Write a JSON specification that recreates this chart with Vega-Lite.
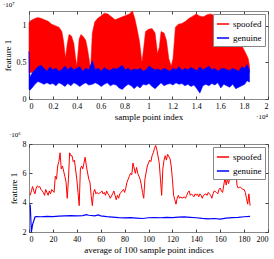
{
"$schema": "https://vega.github.io/schema/vega-lite/v6.json",
"padding": {"left": 2, "top": 0, "right": 5, "bottom": 0},
"config": {
 "font": "Liberation Serif",
 "view": {"stroke": "#888", "strokeWidth": 1},
 "axis": {"domain": false, "grid": false, "tickColor": "#444", "tickSize": -3, "labelFont": "Liberation Serif", "labelFontSize": 8, "labelColor": "#000", "titleFont": "Liberation Serif", "titleFontSize": 9, "titleFontWeight": "normal", "titleColor": "#000", "labelPadding": 6},
 "legend": {"orient": "top-right", "offset": 3, "strokeColor": "#888", "fillColor": "white", "padding": 3, "symbolType": "stroke", "symbolStrokeWidth": 1.5, "symbolSize": 150, "labelOffset": 3, "labelFont": "Liberation Serif", "labelFontSize": 9, "labelColor": "#000", "rowPadding": 2},
 "title": {"fontSize": 7, "font": "Liberation Serif", "fontWeight": "normal", "anchor": "start", "offset": 2, "color": "#000"},
 "concat": {"spacing": 8}
},
"resolve": {"scale": {"stroke": "independent", "fill": "independent"}, "legend": {"stroke": "independent", "fill": "independent"}},
"vconcat": [
{
 "width": 239, "height": 88,
 "title": {"text": "·10⁷"},
 "layer": [
  {
   "data": {"values": [
    {"x":0,"series":"spoofed","hi":1.04e7,"lo":3.6e6},
    {"x":150,"series":"spoofed","hi":1.07e7,"lo":3.6e6},
    {"x":400,"series":"spoofed","hi":1.09e7,"lo":3.6e6},
    {"x":700,"series":"spoofed","hi":1.11e7,"lo":3.6e6},
    {"x":1000,"series":"spoofed","hi":1.10e7,"lo":3.6e6},
    {"x":1300,"series":"spoofed","hi":1.08e7,"lo":3.6e6},
    {"x":1600,"series":"spoofed","hi":1.06e7,"lo":3.6e6},
    {"x":1900,"series":"spoofed","hi":1.02e7,"lo":3.6e6},
    {"x":2200,"series":"spoofed","hi":1.0e7,"lo":3.6e6},
    {"x":2500,"series":"spoofed","hi":0.98e7,"lo":3.6e6},
    {"x":2750,"series":"spoofed","hi":0.92e7,"lo":3.6e6},
    {"x":2900,"series":"spoofed","hi":0.78e7,"lo":3.6e6},
    {"x":3050,"series":"spoofed","hi":0.56e7,"lo":3.6e6},
    {"x":3200,"series":"spoofed","hi":0.75e7,"lo":3.6e6},
    {"x":3350,"series":"spoofed","hi":0.88e7,"lo":3.6e6},
    {"x":3550,"series":"spoofed","hi":0.86e7,"lo":3.6e6},
    {"x":3750,"series":"spoofed","hi":0.76e7,"lo":3.6e6},
    {"x":3900,"series":"spoofed","hi":0.56e7,"lo":3.6e6},
    {"x":4000,"series":"spoofed","hi":0.45e7,"lo":3.6e6},
    {"x":4200,"series":"spoofed","hi":0.82e7,"lo":3.6e6},
    {"x":4350,"series":"spoofed","hi":0.88e7,"lo":3.6e6},
    {"x":4550,"series":"spoofed","hi":0.85e7,"lo":3.6e6},
    {"x":4750,"series":"spoofed","hi":0.80e7,"lo":3.6e6},
    {"x":4900,"series":"spoofed","hi":0.68e7,"lo":3.6e6},
    {"x":5050,"series":"spoofed","hi":0.52e7,"lo":3.6e6},
    {"x":5150,"series":"spoofed","hi":0.40e7,"lo":3.6e6},
    {"x":5300,"series":"spoofed","hi":0.90e7,"lo":3.6e6},
    {"x":5500,"series":"spoofed","hi":1.05e7,"lo":3.6e6},
    {"x":5750,"series":"spoofed","hi":1.10e7,"lo":3.6e6},
    {"x":6000,"series":"spoofed","hi":1.13e7,"lo":3.6e6},
    {"x":6300,"series":"spoofed","hi":1.17e7,"lo":3.6e6},
    {"x":6600,"series":"spoofed","hi":1.16e7,"lo":3.6e6},
    {"x":6900,"series":"spoofed","hi":1.12e7,"lo":3.6e6},
    {"x":7200,"series":"spoofed","hi":1.08e7,"lo":3.6e6},
    {"x":7500,"series":"spoofed","hi":1.10e7,"lo":3.6e6},
    {"x":7800,"series":"spoofed","hi":1.12e7,"lo":3.6e6},
    {"x":8100,"series":"spoofed","hi":1.14e7,"lo":3.6e6},
    {"x":8400,"series":"spoofed","hi":1.16e7,"lo":3.6e6},
    {"x":8650,"series":"spoofed","hi":1.20e7,"lo":3.6e6},
    {"x":8850,"series":"spoofed","hi":1.10e7,"lo":3.6e6},
    {"x":9050,"series":"spoofed","hi":0.95e7,"lo":3.6e6},
    {"x":9250,"series":"spoofed","hi":0.78e7,"lo":3.6e6},
    {"x":9450,"series":"spoofed","hi":0.50e7,"lo":3.6e6},
    {"x":9600,"series":"spoofed","hi":0.70e7,"lo":3.6e6},
    {"x":9750,"series":"spoofed","hi":0.92e7,"lo":3.6e6},
    {"x":10000,"series":"spoofed","hi":0.95e7,"lo":3.6e6},
    {"x":10300,"series":"spoofed","hi":0.96e7,"lo":3.6e6},
    {"x":10550,"series":"spoofed","hi":0.90e7,"lo":3.6e6},
    {"x":10750,"series":"spoofed","hi":0.62e7,"lo":3.6e6},
    {"x":10900,"series":"spoofed","hi":0.70e7,"lo":3.6e6},
    {"x":11050,"series":"spoofed","hi":0.92e7,"lo":3.6e6},
    {"x":11300,"series":"spoofed","hi":0.90e7,"lo":3.6e6},
    {"x":11500,"series":"spoofed","hi":0.80e7,"lo":3.6e6},
    {"x":11700,"series":"spoofed","hi":0.55e7,"lo":3.6e6},
    {"x":11900,"series":"spoofed","hi":0.45e7,"lo":3.6e6},
    {"x":12050,"series":"spoofed","hi":0.55e7,"lo":3.6e6},
    {"x":12250,"series":"spoofed","hi":0.98e7,"lo":3.6e6},
    {"x":12500,"series":"spoofed","hi":1.02e7,"lo":3.6e6},
    {"x":12800,"series":"spoofed","hi":1.03e7,"lo":3.6e6},
    {"x":13100,"series":"spoofed","hi":1.06e7,"lo":3.6e6},
    {"x":13400,"series":"spoofed","hi":1.10e7,"lo":3.6e6},
    {"x":13700,"series":"spoofed","hi":1.13e7,"lo":3.6e6},
    {"x":14000,"series":"spoofed","hi":1.16e7,"lo":3.6e6},
    {"x":14300,"series":"spoofed","hi":1.13e7,"lo":3.6e6},
    {"x":14600,"series":"spoofed","hi":1.12e7,"lo":3.6e6},
    {"x":14900,"series":"spoofed","hi":1.15e7,"lo":3.6e6},
    {"x":15200,"series":"spoofed","hi":1.16e7,"lo":3.6e6},
    {"x":15500,"series":"spoofed","hi":1.14e7,"lo":3.6e6},
    {"x":15800,"series":"spoofed","hi":1.12e7,"lo":3.6e6},
    {"x":16100,"series":"spoofed","hi":1.10e7,"lo":3.6e6},
    {"x":16400,"series":"spoofed","hi":1.05e7,"lo":3.6e6},
    {"x":16700,"series":"spoofed","hi":0.98e7,"lo":3.6e6},
    {"x":17000,"series":"spoofed","hi":0.92e7,"lo":3.6e6},
    {"x":17300,"series":"spoofed","hi":0.86e7,"lo":3.6e6},
    {"x":17600,"series":"spoofed","hi":0.78e7,"lo":3.6e6},
    {"x":17900,"series":"spoofed","hi":0.70e7,"lo":3.6e6},
    {"x":18150,"series":"spoofed","hi":0.62e7,"lo":3.6e6},
    {"x":18350,"series":"spoofed","hi":0.55e7,"lo":3.6e6},
    {"x":18450,"series":"spoofed","hi":0.45e7,"lo":3.6e6}
   ]},
   "mark": {"type": "area", "strokeWidth": 0.5},
   "encoding": {
    "x": {"field": "x", "type": "quantitative", "scale": {"domain": [0, 20000], "nice": false}, "axis": {"values": [0,2000,4000,6000,8000,10000,12000,14000,16000,18000,20000], "labelExpr": "'' + datum.value/1e4", "title": "sample point index", "titlePadding": 2}},
    "y": {"field": "hi", "type": "quantitative", "scale": {"domain": [0, 1.2e7], "nice": false}, "axis": {"values": [0, 5e6, 1e7], "labelExpr": "'' + datum.value/1e7", "title": "feature 1", "titlePadding": 4}},
    "y2": {"field": "lo"},
    "fill": {"field": "series", "type": "nominal", "scale": {"domain": ["spoofed","genuine"], "range": ["#ff0000","#0000ff"]}, "legend": {"title": null}},
    "stroke": {"field": "series", "type": "nominal", "scale": {"domain": ["spoofed","genuine"], "range": ["#ff0000","#0000ff"]}, "legend": {"title": null}}
   }
  },
  {
   "data": {"values": [
    {"x":0,"series":"genuine","lo":1.3e6,"hi":6.5e6},
    {"x":80,"series":"genuine","lo":1.2e6,"hi":3.0e6},
    {"x":250,"series":"genuine","lo":1.5e6,"hi":3.5e6},
    {"x":500,"series":"genuine","lo":2.0e6,"hi":4.0e6},
    {"x":750,"series":"genuine","lo":2.4e6,"hi":4.4e6},
    {"x":1000,"series":"genuine","lo":2.2e6,"hi":4.6e6},
    {"x":1250,"series":"genuine","lo":2.0e6,"hi":4.2e6},
    {"x":1500,"series":"genuine","lo":2.2e6,"hi":3.8e6},
    {"x":1750,"series":"genuine","lo":2.0e6,"hi":4.4e6},
    {"x":2000,"series":"genuine","lo":2.1e6,"hi":4.0e6},
    {"x":2250,"series":"genuine","lo":1.8e6,"hi":4.2e6},
    {"x":2500,"series":"genuine","lo":2.2e6,"hi":3.8e6},
    {"x":2750,"series":"genuine","lo":2.0e6,"hi":4.0e6},
    {"x":3000,"series":"genuine","lo":1.7e6,"hi":4.5e6},
    {"x":3250,"series":"genuine","lo":2.1e6,"hi":4.0e6},
    {"x":3500,"series":"genuine","lo":1.8e6,"hi":4.4e6},
    {"x":3750,"series":"genuine","lo":2.2e6,"hi":4.0e6},
    {"x":4000,"series":"genuine","lo":2.0e6,"hi":4.2e6},
    {"x":4250,"series":"genuine","lo":1.7e6,"hi":4.4e6},
    {"x":4500,"series":"genuine","lo":2.0e6,"hi":3.8e6},
    {"x":4750,"series":"genuine","lo":2.2e6,"hi":4.2e6},
    {"x":5000,"series":"genuine","lo":1.9e6,"hi":4.0e6},
    {"x":5300,"series":"genuine","lo":2.0e6,"hi":5.2e6},
    {"x":5550,"series":"genuine","lo":2.2e6,"hi":4.0e6},
    {"x":5800,"series":"genuine","lo":2.0e6,"hi":4.2e6},
    {"x":6050,"series":"genuine","lo":1.7e6,"hi":3.8e6},
    {"x":6300,"series":"genuine","lo":2.0e6,"hi":4.3e6},
    {"x":6550,"series":"genuine","lo":2.2e6,"hi":4.0e6},
    {"x":6800,"series":"genuine","lo":1.8e6,"hi":3.9e6},
    {"x":7050,"series":"genuine","lo":2.0e6,"hi":4.2e6},
    {"x":7300,"series":"genuine","lo":1.9e6,"hi":4.1e6},
    {"x":7550,"series":"genuine","lo":1.5e6,"hi":4.3e6},
    {"x":7800,"series":"genuine","lo":1.3e6,"hi":4.6e6},
    {"x":8050,"series":"genuine","lo":1.7e6,"hi":4.0e6},
    {"x":8300,"series":"genuine","lo":2.0e6,"hi":4.2e6},
    {"x":8550,"series":"genuine","lo":1.8e6,"hi":3.9e6},
    {"x":8800,"series":"genuine","lo":1.4e6,"hi":4.1e6},
    {"x":9050,"series":"genuine","lo":1.8e6,"hi":4.0e6},
    {"x":9300,"series":"genuine","lo":1.5e6,"hi":4.2e6},
    {"x":9550,"series":"genuine","lo":2.0e6,"hi":3.8e6},
    {"x":9800,"series":"genuine","lo":1.9e6,"hi":4.0e6},
    {"x":10050,"series":"genuine","lo":2.1e6,"hi":4.5e6},
    {"x":10300,"series":"genuine","lo":1.7e6,"hi":4.2e6},
    {"x":10550,"series":"genuine","lo":1.4e6,"hi":4.0e6},
    {"x":10800,"series":"genuine","lo":1.8e6,"hi":4.1e6},
    {"x":11050,"series":"genuine","lo":2.2e6,"hi":3.9e6},
    {"x":11300,"series":"genuine","lo":1.8e6,"hi":4.2e6},
    {"x":11550,"series":"genuine","lo":2.0e6,"hi":4.0e6},
    {"x":11800,"series":"genuine","lo":2.1e6,"hi":3.8e6},
    {"x":12050,"series":"genuine","lo":1.9e6,"hi":4.2e6},
    {"x":12300,"series":"genuine","lo":2.2e6,"hi":4.0e6},
    {"x":12550,"series":"genuine","lo":2.0e6,"hi":4.4e6},
    {"x":12800,"series":"genuine","lo":2.1e6,"hi":3.9e6},
    {"x":13050,"series":"genuine","lo":1.8e6,"hi":4.2e6},
    {"x":13300,"series":"genuine","lo":2.0e6,"hi":4.0e6},
    {"x":13550,"series":"genuine","lo":1.7e6,"hi":4.3e6},
    {"x":13800,"series":"genuine","lo":1.9e6,"hi":4.1e6},
    {"x":14050,"series":"genuine","lo":1.4e6,"hi":3.9e6},
    {"x":14300,"series":"genuine","lo":0.8e6,"hi":4.4e6},
    {"x":14550,"series":"genuine","lo":1.8e6,"hi":4.0e6},
    {"x":14800,"series":"genuine","lo":2.0e6,"hi":4.2e6},
    {"x":15050,"series":"genuine","lo":1.8e6,"hi":4.5e6},
    {"x":15300,"series":"genuine","lo":2.1e6,"hi":4.0e6},
    {"x":15550,"series":"genuine","lo":1.9e6,"hi":4.2e6},
    {"x":15800,"series":"genuine","lo":2.2e6,"hi":3.8e6},
    {"x":16050,"series":"genuine","lo":1.5e6,"hi":4.1e6},
    {"x":16300,"series":"genuine","lo":2.0e6,"hi":4.2e6},
    {"x":16550,"series":"genuine","lo":1.8e6,"hi":4.0e6},
    {"x":16800,"series":"genuine","lo":1.6e6,"hi":3.9e6},
    {"x":17050,"series":"genuine","lo":2.0e6,"hi":4.2e6},
    {"x":17300,"series":"genuine","lo":1.4e6,"hi":4.0e6},
    {"x":17550,"series":"genuine","lo":1.6e6,"hi":3.8e6},
    {"x":17800,"series":"genuine","lo":1.8e6,"hi":4.4e6},
    {"x":18050,"series":"genuine","lo":2.0e6,"hi":4.2e6},
    {"x":18250,"series":"genuine","lo":2.5e6,"hi":4.7e6},
    {"x":18450,"series":"genuine","lo":2.3e6,"hi":4.0e6}
   ]},
   "mark": {"type": "area", "strokeWidth": 0.5},
   "encoding": {
    "x": {"field": "x", "type": "quantitative", "scale": {"domain": [0, 20000], "nice": false}, "axis": {"orient": "top", "values": [0,2000,4000,6000,8000,10000,12000,14000,16000,18000,20000], "labels": false, "title": null}},
    "y": {"field": "hi", "type": "quantitative", "scale": {"domain": [0, 1.2e7], "nice": false}, "axis": {"orient": "right", "values": [0, 5e6, 1e7], "labels": false, "title": null}},
    "y2": {"field": "lo"},
    "fill": {"field": "series", "type": "nominal", "scale": {"domain": ["spoofed","genuine"], "range": ["#ff0000","#0000ff"]}, "legend": {"title": null}},
    "stroke": {"field": "series", "type": "nominal", "scale": {"domain": ["spoofed","genuine"], "range": ["#ff0000","#0000ff"]}, "legend": {"title": null}}
   }
  },
  {
   "data": {"values": [{"label": "·10⁴"}]},
   "mark": {"type": "text", "align": "right", "baseline": "middle", "dy": 18, "fontSize": 7, "font": "Liberation Serif", "color": "#000"},
   "encoding": {
    "x": {"datum": 20000, "type": "quantitative", "axis": null},
    "y": {"datum": 0, "type": "quantitative", "axis": null},
    "text": {"field": "label"}
   }
  }
 ],
 "resolve": {"axis": {"x": "independent", "y": "independent"}}
},
{
 "width": 239, "height": 88,
 "title": {"text": "·10⁶"},
 "layer": [
  {
   "data": {"values": [
    {"x":1,"series":"spoofed","y":4.5e6},{"x":2,"series":"spoofed","y":4.8e6},{"x":3,"series":"spoofed","y":5.1e6},{"x":4,"series":"spoofed","y":4.8e6},
    {"x":5,"series":"spoofed","y":4.6e6},{"x":6,"series":"spoofed","y":5.0e6},{"x":7,"series":"spoofed","y":5.15e6},{"x":8,"series":"spoofed","y":5.05e6},
    {"x":9,"series":"spoofed","y":5.1e6},{"x":10,"series":"spoofed","y":4.9e6},{"x":12,"series":"spoofed","y":4.7e6},{"x":13,"series":"spoofed","y":4.5e6},
    {"x":14,"series":"spoofed","y":4.9e6},{"x":15,"series":"spoofed","y":4.7e6},{"x":16,"series":"spoofed","y":4.5e6},{"x":17,"series":"spoofed","y":4.8e6},
    {"x":18,"series":"spoofed","y":4.6e6},{"x":19,"series":"spoofed","y":4.9e6},{"x":21,"series":"spoofed","y":4.7e6},{"x":22,"series":"spoofed","y":5.8e6},
    {"x":23,"series":"spoofed","y":5.6e6},{"x":24,"series":"spoofed","y":6.5e6},{"x":25,"series":"spoofed","y":6.8e6},{"x":26,"series":"spoofed","y":7.4e6},
    {"x":27,"series":"spoofed","y":6.3e6},{"x":28,"series":"spoofed","y":6.5e6},{"x":30,"series":"spoofed","y":5.8e6},{"x":31,"series":"spoofed","y":5.4e6},
    {"x":32,"series":"spoofed","y":4.3e6},{"x":33,"series":"spoofed","y":5.6e6},{"x":34,"series":"spoofed","y":7.4e6},{"x":35,"series":"spoofed","y":7.2e6},
    {"x":36,"series":"spoofed","y":7.2e6},{"x":37,"series":"spoofed","y":6.8e6},{"x":38,"series":"spoofed","y":6.9e6},{"x":40,"series":"spoofed","y":5.6e6},
    {"x":41,"series":"spoofed","y":4.7e6},{"x":42,"series":"spoofed","y":3.8e6},{"x":43,"series":"spoofed","y":6.3e6},{"x":44,"series":"spoofed","y":6.5e6},
    {"x":45,"series":"spoofed","y":6.3e6},{"x":46,"series":"spoofed","y":6.7e6},{"x":47,"series":"spoofed","y":7.1e6},{"x":48,"series":"spoofed","y":6.5e6},
    {"x":50,"series":"spoofed","y":5.6e6},{"x":51,"series":"spoofed","y":5.4e6},{"x":52,"series":"spoofed","y":4.5e6},{"x":53,"series":"spoofed","y":3.8e6},
    {"x":54,"series":"spoofed","y":4.7e6},{"x":55,"series":"spoofed","y":4.9e6},{"x":56,"series":"spoofed","y":4.6e6},{"x":57,"series":"spoofed","y":4.7e6},
    {"x":58,"series":"spoofed","y":4.6e6},{"x":60,"series":"spoofed","y":4.7e6},{"x":61,"series":"spoofed","y":4.8e6},{"x":62,"series":"spoofed","y":4.6e6},
    {"x":63,"series":"spoofed","y":4.7e6},{"x":64,"series":"spoofed","y":4.5e6},{"x":65,"series":"spoofed","y":4.8e6},{"x":66,"series":"spoofed","y":4.6e6},
    {"x":67,"series":"spoofed","y":4.5e6},{"x":68,"series":"spoofed","y":4.3e6},{"x":70,"series":"spoofed","y":4.6e6},{"x":71,"series":"spoofed","y":4.8e6},
    {"x":72,"series":"spoofed","y":4.5e6},{"x":73,"series":"spoofed","y":4.2e6},{"x":74,"series":"spoofed","y":4.5e6},{"x":75,"series":"spoofed","y":4.3e6},
    {"x":76,"series":"spoofed","y":4.6e6},{"x":78,"series":"spoofed","y":4.8e6},{"x":79,"series":"spoofed","y":4.9e6},{"x":80,"series":"spoofed","y":4.7e6},
    {"x":81,"series":"spoofed","y":5.0e6},{"x":82,"series":"spoofed","y":5.4e6},{"x":83,"series":"spoofed","y":5.6e6},{"x":84,"series":"spoofed","y":5.8e6},
    {"x":85,"series":"spoofed","y":6.0e6},{"x":86,"series":"spoofed","y":5.9e6},{"x":87,"series":"spoofed","y":6.7e6},{"x":89,"series":"spoofed","y":6.0e6},
    {"x":90,"series":"spoofed","y":6.4e6},{"x":91,"series":"spoofed","y":6.0e6},{"x":92,"series":"spoofed","y":5.8e6},{"x":93,"series":"spoofed","y":5.6e6},
    {"x":94,"series":"spoofed","y":5.2e6},{"x":95,"series":"spoofed","y":4.7e6},{"x":96,"series":"spoofed","y":4.3e6},{"x":97,"series":"spoofed","y":5.6e6},
    {"x":99,"series":"spoofed","y":6.5e6},{"x":100,"series":"spoofed","y":6.7e6},{"x":101,"series":"spoofed","y":6.9e6},{"x":102,"series":"spoofed","y":6.8e6},
    {"x":103,"series":"spoofed","y":7.2e6},{"x":104,"series":"spoofed","y":7.4e6},{"x":105,"series":"spoofed","y":7.7e6},{"x":106,"series":"spoofed","y":7.9e6},
    {"x":107,"series":"spoofed","y":7.6e6},{"x":109,"series":"spoofed","y":6.7e6},{"x":110,"series":"spoofed","y":5.6e6},{"x":111,"series":"spoofed","y":4.5e6},
    {"x":112,"series":"spoofed","y":6.3e6},{"x":113,"series":"spoofed","y":6.9e6},{"x":114,"series":"spoofed","y":7.2e6},{"x":115,"series":"spoofed","y":6.9e6},
    {"x":116,"series":"spoofed","y":7.3e6},{"x":118,"series":"spoofed","y":7.0e6},{"x":119,"series":"spoofed","y":6.5e6},{"x":120,"series":"spoofed","y":5.6e6},
    {"x":121,"series":"spoofed","y":4.5e6},{"x":122,"series":"spoofed","y":4.2e6},{"x":123,"series":"spoofed","y":3.9e6},{"x":124,"series":"spoofed","y":4.3e6},
    {"x":125,"series":"spoofed","y":4.5e6},{"x":126,"series":"spoofed","y":4.3e6},{"x":127,"series":"spoofed","y":4.4e6},{"x":128,"series":"spoofed","y":4.3e6},
    {"x":130,"series":"spoofed","y":4.4e6},{"x":131,"series":"spoofed","y":4.3e6},{"x":132,"series":"spoofed","y":4.5e6},{"x":133,"series":"spoofed","y":4.7e6},
    {"x":134,"series":"spoofed","y":4.8e6},{"x":135,"series":"spoofed","y":4.5e6},{"x":136,"series":"spoofed","y":4.6e6},{"x":138,"series":"spoofed","y":4.4e6},
    {"x":139,"series":"spoofed","y":4.6e6},{"x":140,"series":"spoofed","y":4.5e6},{"x":141,"series":"spoofed","y":4.6e6},{"x":142,"series":"spoofed","y":4.4e6},
    {"x":143,"series":"spoofed","y":4.6e6},{"x":144,"series":"spoofed","y":4.5e6},{"x":145,"series":"spoofed","y":4.3e6},{"x":146,"series":"spoofed","y":4.5e6},
    {"x":148,"series":"spoofed","y":4.6e6},{"x":149,"series":"spoofed","y":4.5e6},{"x":150,"series":"spoofed","y":4.7e6},{"x":151,"series":"spoofed","y":4.6e6},
    {"x":152,"series":"spoofed","y":4.5e6},{"x":153,"series":"spoofed","y":4.3e6},{"x":154,"series":"spoofed","y":4.6e6},{"x":155,"series":"spoofed","y":4.8e6},
    {"x":157,"series":"spoofed","y":4.7e6},{"x":158,"series":"spoofed","y":4.6e6},{"x":159,"series":"spoofed","y":4.9e6},{"x":160,"series":"spoofed","y":5.0e6},
    {"x":161,"series":"spoofed","y":4.8e6},{"x":162,"series":"spoofed","y":4.7e6},{"x":163,"series":"spoofed","y":5.2e6},{"x":164,"series":"spoofed","y":5.7e6},
    {"x":165,"series":"spoofed","y":5.2e6},{"x":166,"series":"spoofed","y":5.6e6},{"x":167,"series":"spoofed","y":5.3e6},{"x":168,"series":"spoofed","y":5.7e6},
    {"x":170,"series":"spoofed","y":6.0e6},{"x":171,"series":"spoofed","y":6.5e6},{"x":172,"series":"spoofed","y":6.9e6},{"x":173,"series":"spoofed","y":6.5e6},
    {"x":174,"series":"spoofed","y":5.2e6},{"x":175,"series":"spoofed","y":5.0e6},{"x":176,"series":"spoofed","y":5.05e6},{"x":177,"series":"spoofed","y":5.05e6},
    {"x":179,"series":"spoofed","y":4.9e6},{"x":180,"series":"spoofed","y":4.9e6},{"x":181,"series":"spoofed","y":4.7e6},{"x":182,"series":"spoofed","y":4.3e6},
    {"x":183,"series":"spoofed","y":3.9e6},{"x":184,"series":"spoofed","y":4.6e6},{"x":185,"series":"spoofed","y":3.8e6}
   ]},
   "mark": {"type": "line", "strokeWidth": 1},
   "encoding": {
    "x": {"field": "x", "type": "quantitative", "scale": {"domain": [0, 200], "nice": false}, "axis": {"values": [0,20,40,60,80,100,120,140,160,180,200], "title": "average of 100 sample point indices", "titlePadding": 2}},
    "y": {"field": "y", "type": "quantitative", "scale": {"domain": [2e6, 8e6], "nice": false}, "axis": {"values": [2e6,4e6,6e6,8e6], "labelExpr": "'' + datum.value/1e6", "title": "feature 1", "titlePadding": 4}},
    "stroke": {"field": "series", "type": "nominal", "scale": {"domain": ["spoofed","genuine"], "range": ["#ff0000","#0000ff"]}, "legend": {"title": null}}
   }
  },
  {
   "data": {"values": [
    {"x":1,"series":"genuine","y":3.87e6},{"x":2,"series":"genuine","y":2.0e6},{"x":3,"series":"genuine","y":2.5e6},{"x":5,"series":"genuine","y":3.02e6},
    {"x":6,"series":"genuine","y":3.05e6},{"x":10,"series":"genuine","y":3.04e6},{"x":15,"series":"genuine","y":3.06e6},{"x":20,"series":"genuine","y":3.05e6},
    {"x":25,"series":"genuine","y":3.08e6},{"x":30,"series":"genuine","y":3.1e6},{"x":35,"series":"genuine","y":3.12e6},{"x":40,"series":"genuine","y":3.1e6},
    {"x":45,"series":"genuine","y":3.12e6},{"x":48,"series":"genuine","y":3.18e6},{"x":50,"series":"genuine","y":3.14e6},{"x":55,"series":"genuine","y":3.1e6},
    {"x":58,"series":"genuine","y":3.16e6},{"x":60,"series":"genuine","y":3.1e6},{"x":65,"series":"genuine","y":3.05e6},{"x":70,"series":"genuine","y":3.02e6},
    {"x":75,"series":"genuine","y":2.98e6},{"x":80,"series":"genuine","y":2.96e6},{"x":85,"series":"genuine","y":2.98e6},{"x":90,"series":"genuine","y":2.95e6},
    {"x":95,"series":"genuine","y":2.92e6},{"x":100,"series":"genuine","y":2.97e6},{"x":105,"series":"genuine","y":2.99e6},{"x":110,"series":"genuine","y":2.97e6},
    {"x":115,"series":"genuine","y":3.0e6},{"x":120,"series":"genuine","y":2.98e6},{"x":125,"series":"genuine","y":3.02e6},{"x":130,"series":"genuine","y":3.03e6},
    {"x":135,"series":"genuine","y":3.0e6},{"x":140,"series":"genuine","y":2.97e6},{"x":145,"series":"genuine","y":2.93e6},{"x":150,"series":"genuine","y":2.9e6},
    {"x":155,"series":"genuine","y":2.92e6},{"x":160,"series":"genuine","y":2.88e6},{"x":165,"series":"genuine","y":2.95e6},{"x":170,"series":"genuine","y":2.98e6},
    {"x":175,"series":"genuine","y":3.0e6},{"x":180,"series":"genuine","y":3.04e6},{"x":185,"series":"genuine","y":3.06e6}
   ]},
   "mark": {"type": "line", "strokeWidth": 1.2},
   "encoding": {
    "x": {"field": "x", "type": "quantitative", "scale": {"domain": [0, 200], "nice": false}, "axis": {"orient": "top", "values": [0,20,40,60,80,100,120,140,160,180,200], "labels": false, "title": null}},
    "y": {"field": "y", "type": "quantitative", "scale": {"domain": [2e6, 8e6], "nice": false}, "axis": {"orient": "right", "values": [2e6,4e6,6e6,8e6], "labels": false, "title": null}},
    "stroke": {"field": "series", "type": "nominal", "scale": {"domain": ["spoofed","genuine"], "range": ["#ff0000","#0000ff"]}, "legend": {"title": null}}
   }
  }
 ],
 "resolve": {"axis": {"x": "independent", "y": "independent"}}
}
]
}
